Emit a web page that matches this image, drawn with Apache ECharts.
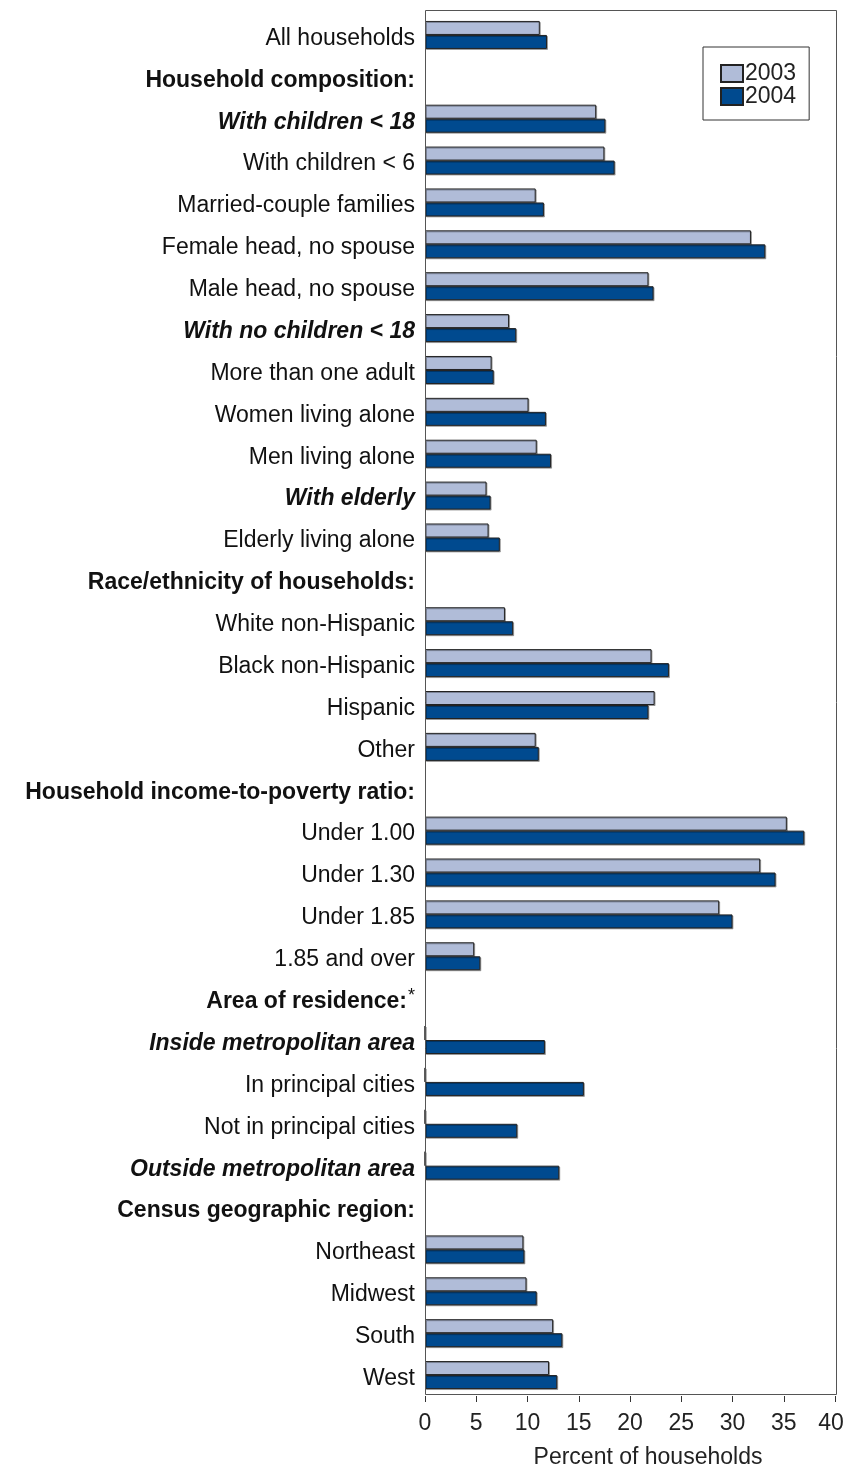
<!DOCTYPE html>
<html><head><meta charset="utf-8">
<script src="https://cdn.jsdelivr.net/npm/echarts@6/dist/echarts.min.js"></script>
<style>html,body{margin:0;padding:0;background:#fff}#c{width:845px;height:1468px}</style>
</head><body><div id="c"></div>
<script>
const categories = [
  'All households',
  'Household composition:',
  'With children < 18',
  'With children < 6',
  'Married-couple families',
  'Female head, no spouse',
  'Male head, no spouse',
  'With no children < 18',
  'More than one adult',
  'Women living alone',
  'Men living alone',
  'With elderly',
  'Elderly living alone',
  'Race/ethnicity of households:',
  'White non-Hispanic',
  'Black non-Hispanic',
  'Hispanic',
  'Other',
  'Household income-to-poverty ratio:',
  'Under 1.00',
  'Under 1.30',
  'Under 1.85',
  '1.85 and over',
  'Area of residence:*',
  'Inside metropolitan area',
  'In principal cities',
  'Not in principal cities',
  'Outside metropolitan area',
  'Census geographic region:',
  'Northeast',
  'Midwest',
  'South',
  'West'
];
const headerRows = [
  'Household composition:',
  'Race/ethnicity of households:',
  'Household income-to-poverty ratio:',
  'Area of residence:*',
  'Census geographic region:'
];
const subgroupRows = [
  'With children < 18',
  'With no children < 18',
  'With elderly',
  'Inside metropolitan area',
  'Outside metropolitan area'
];
const seriesNames = ['2003', '2004'];
const values2003 = [
  11.2, null, 16.7, 17.5, 10.8, 31.8, 21.8, 8.2, 6.5, 10.1, 10.9, 6.0, 6.2,
  null, 7.8, 22.1, 22.4, 10.8,
  null, 35.3, 32.7, 28.7, 4.8,
  null, 0, 0, 0, 0,
  null, 9.6, 9.9, 12.5, 12.1
];
const values2004 = [
  11.9, null, 17.6, 18.5, 11.6, 33.2, 22.3, 8.9, 6.7, 11.8, 12.3, 6.4, 7.3,
  null, 8.6, 23.8, 21.8, 11.1,
  null, 37.0, 34.2, 30.0, 5.4,
  null, 11.7, 15.5, 9.0, 13.1,
  null, 9.7, 10.9, 13.4, 12.9
];
const xMin = 0, xMax = 40, xStep = 5;
const xTitle = 'Percent of households';

const FONT = '"Liberation Sans", Arial, Helvetica, sans-serif';
const chart = echarts.init(document.getElementById('c'), null, {renderer: 'canvas'});

const barStyle = (color) => ({
  color: color,
  borderColor: '#222',
  borderWidth: 1,
  shadowColor: 'rgba(0,0,0,0.3)',
  shadowOffsetX: 1,
  shadowOffsetY: 1,
  shadowBlur: 0
});

const labPad = [7, 0, 0, 0];

chart.setOption({
  backgroundColor: '#ffffff',
  animation: false,
  textStyle: {fontFamily: FONT},
  grid: {left: 425, right: 10, top: 14, bottom: 72, containLabel: false, outerBoundsMode: 'none'},
  graphic: [{
    type: 'rect',
    shape: {x: 425.5, y: 10.5, width: 411, height: 1384},
    style: {fill: 'none', stroke: '#555', lineWidth: 1},
    silent: true,
    z: 10
  }],
  legend: {
    data: seriesNames,
    orient: 'vertical',
    left: 703,
    top: 47,
    itemWidth: 22,
    itemHeight: 17,
    itemGap: 0,
    icon: 'rect',
    padding: [15, 13, 12, 17],
    borderColor: '#333',
    borderWidth: 1,
    backgroundColor: '#fff',
    textStyle: {fontSize: 23, color: '#222', fontFamily: FONT, lineHeight: 23, padding: [0, 0, 0, -3]}
  },
  xAxis: {
    type: 'value',
    min: xMin,
    max: xMax,
    interval: xStep,
    name: xTitle,
    nameLocation: 'middle',
    nameGap: 50,
    nameTextStyle: {fontSize: 23, color: '#222', fontFamily: FONT, padding: [0, 0, 0, 36]},
    axisLine: {show: false},
    axisTick: {show: true, length: 6, lineStyle: {color: '#333', width: 1}},
    axisLabel: {
      fontSize: 23, color: '#222', margin: 16, fontFamily: FONT,
      formatter: function (v) { return v === xMax ? '{last|' + v + '}' : '{t|' + v + '}'; },
      rich: {
        t: {fontSize: 23, color: '#222', fontFamily: FONT},
        last: {fontSize: 23, color: '#222', fontFamily: FONT, padding: [0, 8, 0, 0]}
      }
    },
    splitLine: {show: false}
  },
  yAxis: {
    type: 'category',
    data: categories,
    inverse: true,
    axisLine: {show: false},
    axisTick: {show: false},
    splitLine: {show: false},
    axisLabel: {
      interval: 0,
      margin: 10,
      fontSize: 23,
      color: '#111',
      fontFamily: FONT,
      align: 'right',
      formatter: function (v) {
        if (headerRows.indexOf(v) >= 0) {
          if (v.endsWith('*')) return '{b|' + v.slice(0, -1) + '}{ast|*}';
          return '{b|' + v + '}';
        }
        if (subgroupRows.indexOf(v) >= 0) return '{bi|' + v + '}';
        return '{n|' + v + '}';
      },
      rich: {
        n: {fontSize: 23, color: '#111', fontFamily: FONT, padding: labPad},
        b: {fontSize: 23, color: '#111', fontFamily: FONT, fontWeight: 'bold', padding: labPad},
        bi: {fontSize: 23, color: '#111', fontFamily: FONT, fontWeight: 'bold', fontStyle: 'italic', padding: labPad},
        ast: {fontSize: 18, color: '#111', fontFamily: FONT, verticalAlign: 'top', padding: [4, 0, 6, 1]}
      }
    }
  },
  series: [
    {
      name: seriesNames[0], type: 'bar', data: values2003,
      barWidth: 14, barGap: '0%',
      itemStyle: barStyle('#B0BCD8')
    },
    {
      name: seriesNames[1], type: 'bar', data: values2004,
      barWidth: 14, barGap: '0%',
      itemStyle: barStyle('#004A8F')
    }
  ]
});
</script>
</body></html>
